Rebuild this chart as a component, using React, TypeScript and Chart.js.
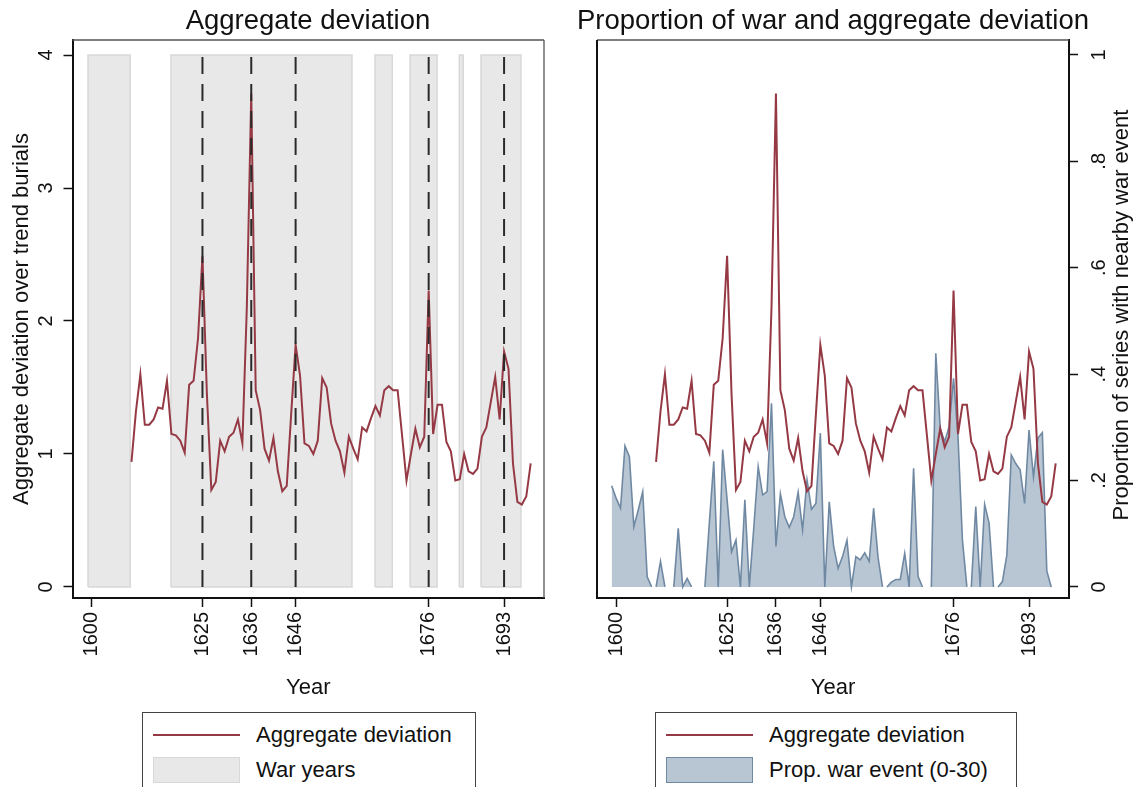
import React, { useEffect, useRef } from 'react';
import { Chart, registerables } from 'chart.js';

Chart.register(...registerables);

// ---------------- data ----------------
const DEV_START_YEAR = 1609;
const DEV_VALUES = [
  0.94, 1.32, 1.60, 1.22, 1.22, 1.26, 1.35, 1.34, 1.55, 1.15,
  1.14, 1.10, 1.01, 1.52, 1.55, 1.87, 2.49, 1.45, 0.73, 0.79,
  1.10, 1.02, 1.13, 1.16, 1.26, 1.08, 2.10, 3.71, 1.48, 1.33,
  1.04, 0.95, 1.12, 0.87, 0.72, 0.76, 1.30, 1.82, 1.59, 1.08,
  1.06, 1.00, 1.10, 1.57, 1.50, 1.23, 1.10, 1.02, 0.86, 1.13,
  1.04, 0.96, 1.20, 1.17, 1.27, 1.36, 1.29, 1.48, 1.51, 1.48,
  1.48, 1.14, 0.80, 1.00, 1.19, 1.05, 1.13, 2.23, 1.15, 1.37,
  1.37, 1.09, 1.02, 0.80, 0.81, 1.00, 0.87, 0.85, 0.89, 1.13,
  1.20, 1.39, 1.58, 1.26, 1.77, 1.64, 0.93, 0.64, 0.62, 0.68,
  0.93,
];

const PROP_START_YEAR = 1599;
const PROP_VALUES = [
  0.19, 0.167, 0.148, 0.265, 0.245, 0.113, 0.145, 0.179, 0.019, 0,
  0, 0.048, 0, 0, 0, 0.11, 0, 0.016, 0, 0,
  0, 0, 0.12, 0.236, 0, 0.258, 0.164, 0.066, 0.088, 0,
  0.164, 0, 0.11, 0.226, 0.173, 0.179, 0.345, 0.076, 0.175, 0.132,
  0.112, 0.132, 0.178, 0.107, 0.201, 0.146, 0.157, 0.289, 0, 0.16,
  0.076, 0.035, 0.057, 0.088, 0, 0.057, 0.051, 0.064, 0.048, 0.148,
  0.055, 0, 0, 0.009, 0.014, 0.014, 0.063, 0, 0.223, 0.02,
  0, 0, 0, 0.439, 0.298, 0.273, 0.301, 0.392, 0.283, 0.088,
  0, 0, 0.151, 0, 0.155, 0.12, 0, 0, 0.01, 0.06,
  0.248, 0.232, 0.22, 0.157, 0.295, 0.207, 0.28, 0.29, 0.03, 0,
];

// war periods (band start, band end), drawn from 0 to WAR_TOP
const WAR_BANDS: [number, number][] = [
  [1599.2, 1608.7],
  [1617.9, 1658.7],
  [1663.9, 1667.8],
  [1671.8, 1677.9],
  [1682.9, 1683.8],
  [1687.8, 1696.8],
];
const WAR_TOP = 4;

const EVENT_YEARS = [1625, 1636, 1646, 1676, 1693];
const X_TICKS = [1600, 1625, 1636, 1646, 1676, 1693];
const DEV_TICKS = [0, 1, 2, 3, 4];
const PROP_TICKS = [0, 0.2, 0.4, 0.6, 0.8, 1];
const PROP_TICK_LABELS = ['0', '.2', '.4', '.6', '.8', '1'];

const X_MIN = 1595.7;
const X_MAX = 1702;
const DEV_MIN = -0.083;
const DEV_MAX = 4.113;
const PROP_MIN = -0.0208;
const PROP_MAX = 1.028;

// ---------------- styles ----------------
const FONT = '"Liberation Sans", Arial, Helvetica, sans-serif';
const TXT = '#111111';
const RED = '#953a45';
const BLUE_FILL = '#b8c6d4';
const BLUE_LINE = '#7089a3';
const BAND_FILL = '#e8e8e8';
const BAND_LINE = '#d8d8d8';
const DASH = '#2a2a2a';

const framePlugin = {
  id: 'frame',
  afterDraw(chart: any, _args: any, opts: any) {
    const { ctx, chartArea: a } = chart;
    const edges = (opts && opts.edges) || {};
    ctx.save();
    (['top', 'right', 'bottom', 'left'] as const).forEach((side) => {
      const e = edges[side];
      if (!e) return;
      ctx.beginPath();
      ctx.strokeStyle = e.color;
      ctx.lineWidth = e.width;
      if (side === 'top') { ctx.moveTo(a.left, a.top); ctx.lineTo(a.right, a.top); }
      if (side === 'bottom') { ctx.moveTo(a.left, a.bottom); ctx.lineTo(a.right, a.bottom); }
      if (side === 'left') { ctx.moveTo(a.left, a.top); ctx.lineTo(a.left, a.bottom); }
      if (side === 'right') { ctx.moveTo(a.right, a.top); ctx.lineTo(a.right, a.bottom); }
      ctx.stroke();
    });
    ctx.restore();
  },
};

const sideTitlePlugin = {
  id: 'sideTitle',
  afterDraw(chart: any, _args: any, opts: any) {
    if (!opts || !opts.text) return;
    const { ctx, chartArea: a } = chart;
    ctx.save();
    ctx.font = `${opts.size}px ${FONT}`;
    ctx.fillStyle = TXT;
    ctx.textAlign = 'center';
    ctx.textBaseline = 'middle';
    ctx.translate(opts.x, (a.top + a.bottom) / 2 + (opts.dy || 0));
    ctx.rotate(-Math.PI / 2);
    ctx.fillText(opts.text, 0, 0);
    ctx.restore();
  },
};

const gridOpts = {
  drawOnChartArea: false,
  drawTicks: true,
  tickLength: 9,
  tickColor: TXT,
  tickWidth: 1.5,
  color: TXT,
};
const borderOpts = { display: true, color: TXT, width: 2 };

function xAxis() {
  return {
    type: 'linear',
    min: X_MIN,
    max: X_MAX,
    afterBuildTicks: (s: any) => { s.ticks = X_TICKS.map((v) => ({ value: v })); },
    afterFit: (s: any) => { s.height = 107; },
    ticks: {
      autoSkip: false,
      minRotation: 90,
      maxRotation: 90,
      padding: 5,
      color: TXT,
      font: { family: FONT, size: 20 },
      callback: (v: any) => String(v),
    },
    grid: gridOpts,
    border: borderOpts,
    title: {
      display: true,
      text: 'Year',
      color: TXT,
      font: { family: FONT, size: 22 },
      padding: { top: 0, bottom: 4 },
    },
  };
}

function devPoints() {
  return DEV_VALUES.map((v, i) => ({ x: DEV_START_YEAR + i, y: v }));
}

function leftConfig(): any {
  const datasets: any[] = [];
  EVENT_YEARS.forEach((yr) => {
    datasets.push({
      data: [{ x: yr, y: 0 }, { x: yr, y: WAR_TOP }],
      borderColor: DASH,
      borderWidth: 2,
      borderDash: [17, 10],
      pointRadius: 0,
      fill: false,
      order: 0,
    });
  });
  datasets.push({
    data: devPoints(),
    borderColor: RED,
    borderWidth: 2,
    pointRadius: 0,
    tension: 0,
    fill: false,
    order: 1,
  });
  WAR_BANDS.forEach(([s, e]) => {
    // band outline (closed rectangle)
    datasets.push({
      data: [
        { x: s, y: 0 }, { x: s, y: WAR_TOP }, { x: e, y: WAR_TOP }, { x: e, y: 0 }, { x: s, y: 0 },
      ],
      borderColor: BAND_LINE,
      borderWidth: 1.5,
      fill: false,
      pointRadius: 0,
      order: 2,
    });
    // band fill
    datasets.push({
      data: [{ x: s, y: 0 }, { x: s, y: WAR_TOP }, { x: e, y: WAR_TOP }, { x: e, y: 0 }],
      borderWidth: 0,
      borderColor: 'rgba(0,0,0,0)',
      backgroundColor: BAND_FILL,
      fill: 'origin',
      pointRadius: 0,
      order: 3,
    });
  });
  return {
    type: 'line',
    data: { datasets },
    plugins: [framePlugin],
    options: {
      responsive: false,
      animation: false,
      layout: { padding: { top: 40, right: 16, left: 0, bottom: 0 } },
      plugins: {
        legend: { display: false },
        tooltip: { enabled: false },
        frame: {
          edges: {
            top: { color: '#555', width: 1.3 },
            right: { color: '#555', width: 1.3 },
          },
        },
      },
      scales: {
        x: xAxis(),
        y: {
          type: 'linear',
          min: DEV_MIN,
          max: DEV_MAX,
          afterBuildTicks: (s: any) => { s.ticks = DEV_TICKS.map((v) => ({ value: v })); },
          afterFit: (s: any) => { s.width = 72.5; },
          ticks: {
            minRotation: 90,
            maxRotation: 90,
            crossAlign: 'center',
            padding: 11,
            color: TXT,
            font: { family: FONT, size: 20 },
            callback: (v: any) => String(v),
          },
          grid: gridOpts,
          border: borderOpts,
          title: {
            display: true,
            text: 'Aggregate deviation over trend burials',
            color: TXT,
            font: { family: FONT, size: 22 },
            padding: { top: 9, bottom: 0 },
          },
        },
      },
    },
  };
}

function rightConfig(): any {
  const datasets: any[] = [
    {
      data: devPoints(),
      yAxisID: 'y',
      borderColor: RED,
      borderWidth: 2,
      pointRadius: 0,
      tension: 0,
      fill: false,
      order: 0,
    },
    {
      data: PROP_VALUES.map((v, i) => ({ x: PROP_START_YEAR + i, y: v })),
      yAxisID: 'y2',
      borderColor: BLUE_LINE,
      borderWidth: 1.6,
      backgroundColor: BLUE_FILL,
      fill: 'origin',
      pointRadius: 0,
      tension: 0,
      order: 1,
      segment: {
        borderColor: (ctx: any) =>
          ctx.p0.parsed.y === 0 && ctx.p1.parsed.y === 0 ? 'rgba(0,0,0,0)' : BLUE_LINE,
      },
    },
  ];
  return {
    type: 'line',
    data: { datasets },
    plugins: [framePlugin, sideTitlePlugin],
    options: {
      responsive: false,
      animation: false,
      layout: { padding: { top: 40, right: 0, left: 37, bottom: 0 } },
      plugins: {
        legend: { display: false },
        tooltip: { enabled: false },
        frame: {
          edges: {
            top: { color: '#555', width: 1.3 },
            left: { color: TXT, width: 2 },
          },
        },
        sideTitle: {
          text: 'Proportion of series with nearby war event',
          size: 22,
          x: 562,
          dy: -4,
        },
      },
      scales: {
        x: xAxis(),
        y: {
          type: 'linear',
          display: false,
          min: DEV_MIN,
          max: DEV_MAX,
        },
        y2: {
          type: 'linear',
          position: 'right',
          min: PROP_MIN,
          max: PROP_MAX,
          afterBuildTicks: (s: any) => { s.ticks = PROP_TICKS.map((v) => ({ value: v })); },
          afterFit: (s: any) => { s.width = 68; },
          ticks: {
            minRotation: 90,
            maxRotation: 90,
            crossAlign: 'center',
            padding: 13.5,
            color: TXT,
            font: { family: FONT, size: 20 },
            callback: (_v: any, i: number) => PROP_TICK_LABELS[i],
          },
          grid: gridOpts,
          border: borderOpts,
        },
      },
    },
  };
}

const titleStyle = (cx: number): React.CSSProperties => ({
  position: 'absolute',
  left: cx - 400,
  width: 800,
  top: 4,
  textAlign: 'center',
  fontFamily: FONT,
  fontSize: 27.5,
  lineHeight: '32px',
  color: TXT,
  whiteSpace: 'nowrap',
});

const legendText: React.CSSProperties = {
  position: 'absolute',
  fontFamily: FONT,
  fontSize: 22,
  lineHeight: '22px',
  color: TXT,
  whiteSpace: 'nowrap',
};

function Legend(props: { left: number; width: number; label2: string; fill2: string; line2: string }) {
  return (
    <div
      style={{
        position: 'absolute',
        left: props.left,
        top: 712,
        width: props.width,
        height: 100,
        border: '1px solid #444',
        boxSizing: 'border-box',
        background: '#fff',
      }}
    >
      <div style={{ position: 'absolute', left: 10, top: 21, width: 87, height: 2, background: RED }} />
      <div style={{ ...legendText, left: 113, top: 11 }}>Aggregate deviation</div>
      <div
        style={{
          position: 'absolute',
          left: 10,
          top: 44,
          width: 87,
          height: 26,
          background: props.fill2,
          border: `1.5px solid ${props.line2}`,
          boxSizing: 'border-box',
        }}
      />
      <div style={{ ...legendText, left: 113, top: 46 }}>{props.label2}</div>
    </div>
  );
}

export default function App() {
  const leftRef = useRef<HTMLCanvasElement>(null);
  const rightRef = useRef<HTMLCanvasElement>(null);

  useEffect(() => {
    const c1 = new Chart(leftRef.current as HTMLCanvasElement, leftConfig());
    const c2 = new Chart(rightRef.current as HTMLCanvasElement, rightConfig());
    return () => {
      c1.destroy();
      c2.destroy();
    };
  }, []);

  return (
    <div
      style={{
        position: 'absolute',
        left: 0,
        top: 0,
        width: 1137,
        height: 787,
        overflow: 'hidden',
        background: '#ffffff',
      }}
    >
      <canvas ref={leftRef} width={560} height={705} style={{ position: 'absolute', left: 0, top: 0 }} />
      <canvas ref={rightRef} width={577} height={705} style={{ position: 'absolute', left: 560, top: 0 }} />
      <div style={titleStyle(308)}>Aggregate deviation</div>
      <div style={titleStyle(833)}>Proportion of war and aggregate deviation</div>
      <Legend left={142} width={334} label2="War years" fill2={BAND_FILL} line2={BAND_LINE} />
      <Legend left={655} width={362} label2="Prop. war event (0-30)" fill2={BLUE_FILL} line2={BLUE_LINE} />
    </div>
  );
}
